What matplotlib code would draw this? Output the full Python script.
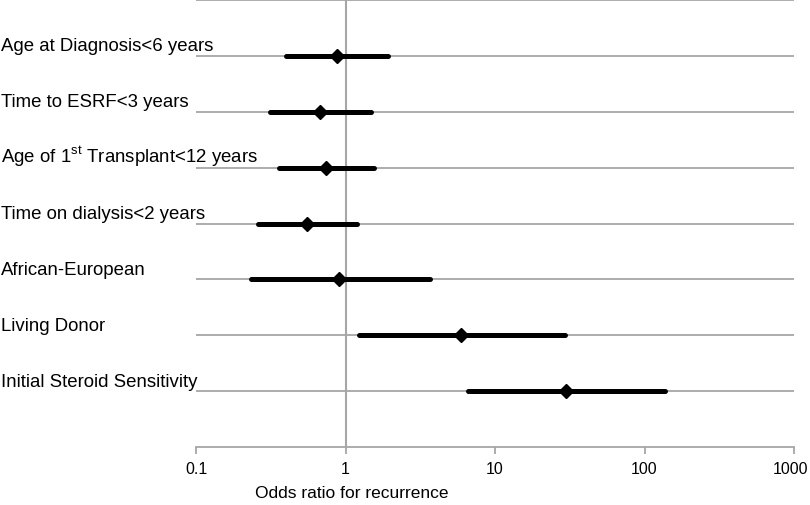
import numpy as np
import matplotlib.pyplot as plt
import matplotlib.transforms as mtransforms

plt.rcParams['font.family'] = ['Liberation Sans', 'DejaVu Sans']
plt.rcParams['mathtext.fontset'] = 'custom'
plt.rcParams['mathtext.rm'] = 'Liberation Sans'

# Data
labels = ['Age at Diagnosis<6 years',
          'Time to ESRF<3 years',
          r'Age of 1$^{\mathrm{st}}$ Transplant<12 years',
          'Time on dialysis<2 years',
          'African-European',
          'Living Donor',
          'Initial Steroid Sensitivity']
odds = [0.88, 0.68, 0.74, 0.555, 0.91, 5.9, 30.0]
ci_low = [0.40, 0.315, 0.358, 0.259, 0.234, 1.23, 6.6]
ci_high = [1.91, 1.49, 1.55, 1.20, 3.69, 29.5, 137]
xticks = [0.1, 1, 10, 100, 1000]
xticklabels = ['0.1', '1', '10', '100', '1000']

grey = '#a6a6a6'

fig = plt.figure(figsize=(8.1, 5.05), dpi=100)
ax = fig.add_axes([196 / 810, 1 - 447 / 505, 598 / 810, 447 / 505])
ax.set_xscale('log')
ax.set_xlim(0.1, 1000)
ax.set_ylim(8, 0)

rows = np.arange(1, len(labels) + 1)

# horizontal guide lines (incl. the top one)
ax.hlines(np.arange(0, len(labels) + 1), 0.1, 1000, color=grey, lw=1.3, clip_on=False, zorder=1)
ax.axvline(1, color=grey, lw=1.5, zorder=1)

for y, lo, hi, m in zip(rows, ci_low, ci_high, odds):
    ax.plot([lo, hi], [y, y], color='black', lw=3.6, solid_capstyle='round', zorder=3)
    ax.plot(m, y, marker='D', color='black', markersize=7.5, zorder=4)

for y, lab in zip(rows, labels):
    ax.annotate(lab, xy=(0.001, y), xycoords=('figure fraction', 'data'),
                xytext=(0, 3.3), textcoords='offset points',
                ha='left', va='baseline', fontsize=13.4)

for s in ['top', 'right', 'left']:
    ax.spines[s].set_visible(False)
ax.spines['bottom'].set_color(grey)
ax.spines['bottom'].set_linewidth(1.3)
ax.set_yticks([])
ax.set_xticks(xticks)
ax.set_xticklabels(xticklabels)
ax.xaxis.set_minor_locator(plt.NullLocator())
ax.tick_params(axis='x', colors=grey, labelcolor='black', length=5, width=1.3,
               labelsize=11.5, pad=6)

# nudge the last tick label so it stays inside the figure
last = ax.get_xticklabels()[-1]
last.set_transform(last.get_transform() +
                   mtransforms.ScaledTranslation(-4 / 100, 0, fig.dpi_scale_trans))

fig.text(352 / 810, 1 - 494 / 505, 'Odds ratio for recurrence', ha='center', va='center',
         fontsize=12.5)

fig.savefig('out.png', dpi=100)
